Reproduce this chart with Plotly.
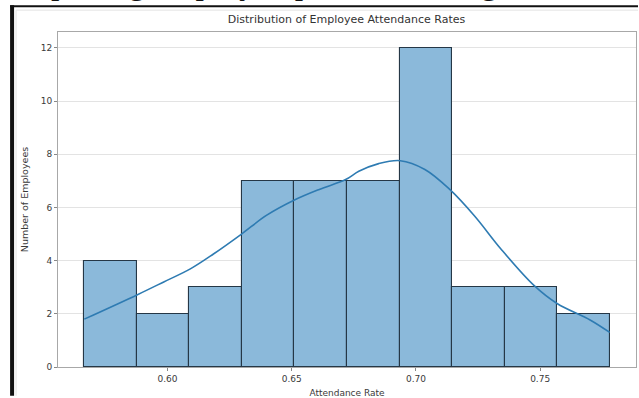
import numpy as np
import plotly.graph_objects as go

# ---- data ----
bin_low = 0.5665
bin_high = 0.7780
counts = [4, 2, 3, 7, 7, 7, 12, 3, 3, 2]

kde_x = [0.5665, 0.5879, 0.5985, 0.6092, 0.6185, 0.6298, 0.6398, 0.6511,
         0.6611, 0.6717, 0.6770, 0.6850, 0.6937, 0.7036, 0.7136, 0.7236, 0.7342,
         0.7475, 0.7568, 0.7701, 0.7780]
kde_y = [1.80, 2.72, 3.20, 3.69, 4.25, 5.00, 5.70, 6.28,
         6.68, 7.05, 7.36, 7.65, 7.76, 7.43, 6.68, 5.68, 4.44,
         3.07, 2.39, 1.77, 1.30]

x_ticks = [0.60, 0.65, 0.70, 0.75]
y_ticks = [0, 2, 4, 6, 8, 10, 12]

title_text = "Distribution of Employee Attendance Rates"
x_label = "Attendance Rate"
y_label = "Number of Employees"
caption_text = "depicting employee presence along the overall"

# ---- layout geometry (pixels) ----
W, H = 639, 398
L, R, T, B = 58, 637, 32, 369
pw, ph = R - L, B - T

def px_x(p):
    return (p - L) / pw

def px_y(p):
    return (B - p) / ph

edges = np.linspace(bin_low, bin_high, len(counts) + 1)
centers = (edges[:-1] + edges[1:]) / 2
width = edges[1] - edges[0]

fig = go.Figure()
fig.add_trace(go.Bar(
    x=centers, y=counts, width=[width] * len(counts),
    marker=dict(color="#8bb9da", line=dict(color="#253746", width=1.1)),
    hoverinfo="skip", showlegend=False,
))
fig.add_trace(go.Scatter(
    x=kde_x, y=kde_y, mode="lines",
    line=dict(color="#2e7bb2", width=1.6, shape="spline", smoothing=1.0),
    hoverinfo="skip", showlegend=False,
))

span = bin_high - bin_low
fig.update_layout(
    width=W, height=H,
    margin=dict(l=L, r=W - R, t=T, b=H - B, pad=0),
    paper_bgcolor="white", plot_bgcolor="white",
    font=dict(family="DejaVu Sans", color="#3a3a3a", size=9),
    bargap=0,
    xaxis=dict(
        range=[bin_low - 0.05 * span, bin_high + 0.05 * span],
        tickvals=x_ticks, ticktext=[f"{v:.2f}" for v in x_ticks],
        showgrid=False, zeroline=False,
        showline=True, linecolor="#a8a8a8", linewidth=1, mirror=True,
        ticks="outside", ticklen=3, tickcolor="#888888",
        tickfont=dict(size=9, color="#3a3a3a"),
        title=dict(text=x_label, font=dict(size=9, color="#3a3a3a"), standoff=6),
    ),
    yaxis=dict(
        range=[0, 12.6],
        tickvals=y_ticks,
        showgrid=True, gridcolor="#e3e3e3", gridwidth=1, zeroline=False,
        showline=True, linecolor="#a8a8a8", linewidth=1, mirror=True,
        ticks="outside", ticklen=3, tickcolor="#888888",
        tickfont=dict(size=9, color="#3a3a3a"),
        title=dict(text=y_label, font=dict(size=9.5, color="#3a3a3a"), standoff=10),
    ),
    title=dict(text=title_text, x=px_x(347), xanchor="center", xref="paper",
               y=1 - 19 / H, yanchor="middle",
               font=dict(size=11, color="#333333")),
    shapes=[
        # screenshot frame: top black line and left black bar
        dict(type="rect", xref="paper", yref="paper",
             x0=px_x(10), x1=px_x(639), y0=px_y(7), y1=px_y(5),
             fillcolor="#111111", line=dict(width=0), layer="above"),
        dict(type="rect", xref="paper", yref="paper",
             x0=px_x(10), x1=px_x(14), y0=px_y(398), y1=px_y(5),
             fillcolor="#111111", line=dict(width=0), layer="above"),
        # faint inner frame
        dict(type="line", xref="paper", yref="paper",
             x0=px_x(16), x1=px_x(639), y0=px_y(10), y1=px_y(10),
             line=dict(color="#e2e2e2", width=1)),
        dict(type="line", xref="paper", yref="paper",
             x0=px_x(16), x1=px_x(16), y0=px_y(398), y1=px_y(10),
             line=dict(color="#e2e2e2", width=1)),
    ],
    annotations=[
        dict(text=caption_text, xref="paper", yref="paper",
             x=px_x(17), y=px_y(-18), xanchor="left", yanchor="middle",
             showarrow=False,
             font=dict(family="Liberation Serif", size=34, color="#111111")),
    ],
)

fig.write_html("out.html")
